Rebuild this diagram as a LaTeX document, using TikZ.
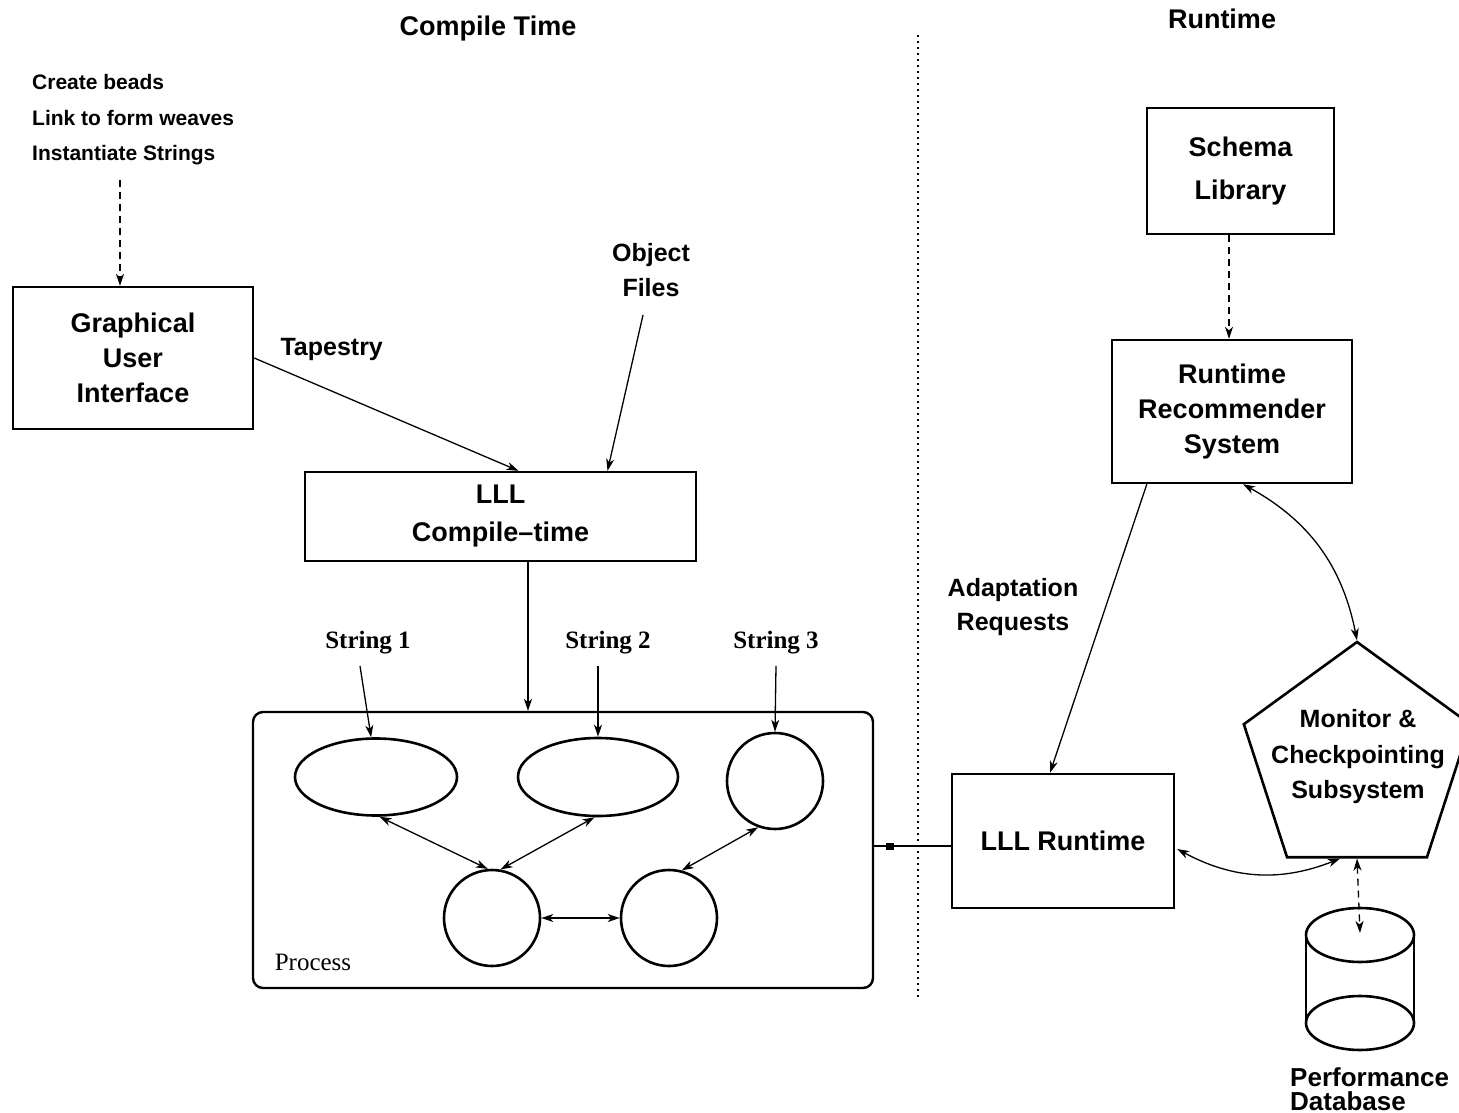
\documentclass[tikz,border=0pt]{standalone}
\usepackage{fontspec}
\setmainfont{Liberation Sans}
\newfontfamily\serifface{Liberation Serif}
\usetikzlibrary{arrows.meta,shapes.geometric,calc}

\begin{document}
\begin{tikzpicture}[x=1pt,y=-1pt,
  >={Stealth[length=12pt,width=8pt,inset=3.5pt]},
  box/.style={draw,line width=2.4pt,inner sep=0pt,align=center},
  bubble/.style={draw,line width=2.6pt,inner sep=0pt},
  conn/.style={line width=1.3pt},
  dashconn/.style={line width=1.3pt,dash pattern=on 7pt off 5pt},
  boxtext/.style={font=\bfseries\fontsize{27}{35}\selectfont},
  labeltext/.style={font=\bfseries\fontsize{25}{34}\selectfont,align=center},
  smalltext/.style={font=\bfseries\fontsize{21}{35.5}\selectfont,align=left},
  strtext/.style={font=\serifface\bfseries\fontsize{25}{30}\selectfont},
]
\useasboundingbox (0,0) rectangle (1459,1113);
\clip (0,0) rectangle (1459,1113);

% headings and the compile-time / runtime divide
\node[boxtext] (hct) at (488,29) {Compile Time};
\node[boxtext] (hrt) at (1222,19) {Runtime};
\coordinate (divtop) at (918,35);
\coordinate (divbot) at (918,998);
\draw[line width=1.3pt,dash pattern=on 2pt off 4pt] (divtop) -- (divbot);

% GUI and its steps
\node[smalltext,anchor=west,inner sep=0pt] (steps) at (32,120) {Create beads\\Link to form weaves\\Instantiate Strings};
\node[box,boxtext,minimum width=240,minimum height=142] (gui) at (133,358) {Graphical\\User\\Interface};
\coordinate (stepsout) at (120,180);
\draw[dashconn,->] (stepsout) -- (stepsout |- gui.north);

% compile-time box and its inputs
\node[box,boxtext,font=\bfseries\fontsize{27}{38}\selectfont,minimum width=391,minimum height=89] (lllc) at (500.5,516.5) {LLL\\Compile–time};
\node[labeltext,anchor=west] (tap) at (277,349) {Tapestry};
\draw[conn,->] (gui.east) -- ($(lllc.north)+(18,0)$);
\node[labeltext,font=\bfseries\fontsize{25}{35}\selectfont] (obj) at (651,270) {Object\\Files};
\coordinate (objout) at (643,315);
\draw[conn,->] (objout) -- ($(lllc.north)+(107,0)$);

% process with its beads
\node[box,rounded corners=10pt,minimum width=620,minimum height=276] (proc) at (563,850) {};
\node[font=\serifface\fontsize{25}{30}\selectfont] (plabel) at (313,962) {Process};
\draw[conn,->] ($(lllc.south)+(27.5,0)$) -- ($(proc.north)+(-35,0)$);

\node[bubble,ellipse,minimum width=162,minimum height=77] (e1) at (376,777) {};
\node[bubble,ellipse,minimum width=160,minimum height=78] (e2) at (598,777) {};
\node[bubble,circle,minimum size=96] (c3) at (775,781) {};
\node[bubble,circle,minimum size=96] (c4) at (492,918) {};
\node[bubble,circle,minimum size=96] (c5) at (669,918) {};

\node[strtext] (s1) at (368,643) {String 1};
\node[strtext] (s2) at (608,643) {String 2};
\node[strtext] (s3) at (776,643) {String 3};
\draw[conn,->] ($(s1.south)+(-8,8)$) -- (e1.97);
\draw[conn,->] ($(s2.south)+(-10,8)$) -- (e2.north);
\draw[conn,->] ($(s3.south)+(0,8)$) -- (c3.north);

\draw[conn,<->] (e1.-85) -- (c4.95);
\draw[conn,<->] (e2.-95) -- (c4.80);
\draw[conn,<->] (c3.250) -- (c5.75);
\draw[conn,<->] (c4.east) -- (c5.west);

% runtime side
\node[box,boxtext,minimum width=222,minimum height=134] (lllr) at (1063,841) {LLL Runtime};
\coordinate (linkrow) at (900,846);
\draw[line width=2pt] (proc.east |- linkrow) -- (lllr.west |- linkrow);
\node[fill,minimum width=8,minimum height=7,inner sep=0pt] (joint) at (890,846) {};

\node[box,boxtext,font=\bfseries\fontsize{27}{43}\selectfont,minimum width=187,minimum height=126] (schema) at (1240.5,171) {Schema\\Library};
\node[box,boxtext,minimum width=240,minimum height=143] (rrs) at (1232,411.5) {Runtime\\Recommender\\System};
\draw[dashconn,->] ($(schema.south)+(-11.5,0)$) -- ($(rrs.north)+(-3,0)$);

\node[labeltext] (adapt) at (1013,607) {Adaptation\\Requests};
\draw[conn,->] ($(rrs.south west)+(36,0)$) -- ($(lllr.north)+(-13,0)$);

\node[draw,line width=2.6pt,regular polygon,regular polygon sides=5,minimum size=238,inner sep=0pt] (mon) at (1357,761) {};
\node[labeltext,font=\bfseries\fontsize{25}{35.5}\selectfont] (montext) at (1358,757) {Monitor \&\\Checkpointing\\Subsystem};
\draw[conn,<->] ($(rrs.south)+(11,0)$) to[bend left=25] (mon.corner 1);
\draw[conn,<->] ($(lllr.east)+(2,8)$) to[bend right=25] ($(mon.side 3)+(-17,0)$);

% performance database
\coordinate (dbtop) at (1360,935);
\coordinate (dbbot) at (1360,1023);
\draw[line width=2.6pt] (dbtop) ellipse [x radius=54, y radius=27];
\draw[line width=2.6pt] (dbbot) ellipse [x radius=54, y radius=27];
\draw[line width=2.6pt] ($(dbtop)+(-54,0)$) -- ($(dbbot)+(-54,0)$);
\draw[line width=2.6pt] ($(dbtop)+(54,0)$) -- ($(dbbot)+(54,0)$);
\draw[dashconn,<->] (mon.side 3) -- ($(dbtop)+(0,-2)$);
\node[labeltext,align=left,anchor=west,inner sep=0pt,font=\bfseries\fontsize{26}{24}\selectfont] (dblabel) at (1290,1089) {Performance\\Database};
\end{tikzpicture}
\end{document}
